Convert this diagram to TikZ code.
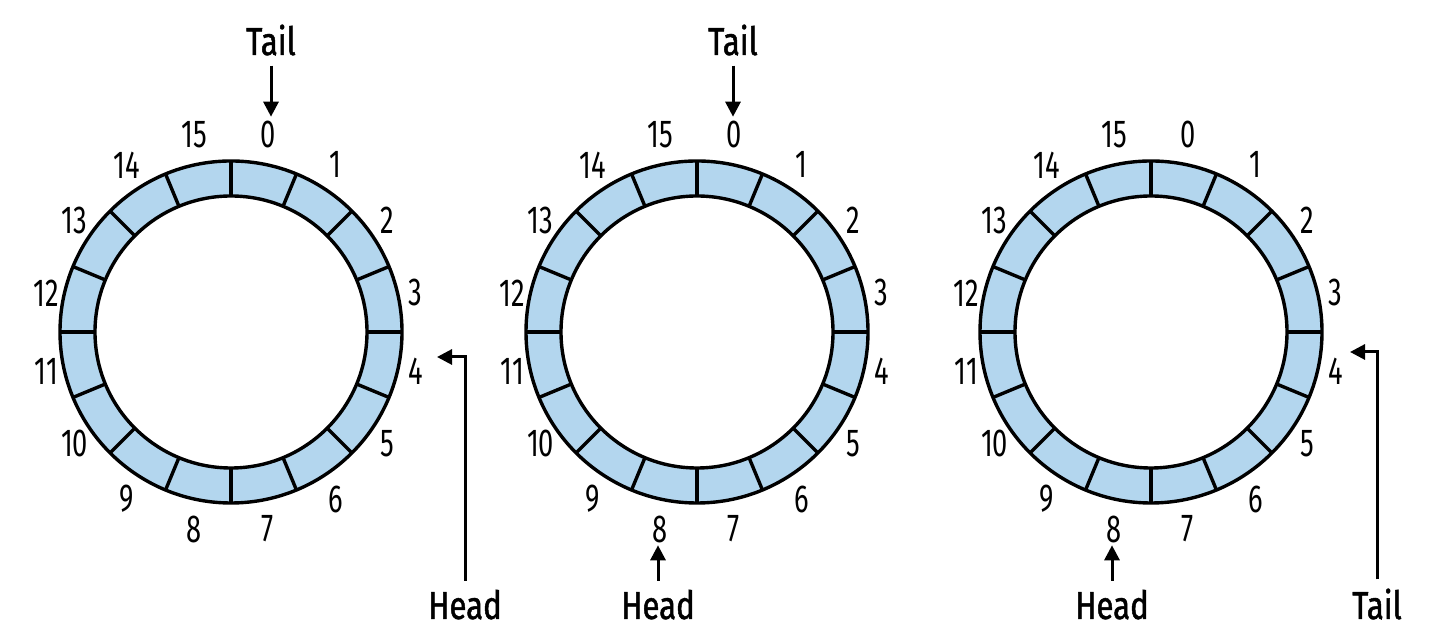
\documentclass[tikz,border=0pt]{standalone}
\usepackage{fontspec}
\setmainfont{Fira Sans}[FakeStretch=0.7]
\newfontfamily\semib{Fira Sans}[FakeStretch=0.8, FakeBold=1.2]
\usetikzlibrary{arrows.meta}
\definecolor{seg}{HTML}{B3D6EE}
\begin{document}
\begin{tikzpicture}[x=1pt,y=1pt,
  ring/.style={line width=3.4pt, black},
  num/.style={font=\fontsize{39}{45}\selectfont, inner sep=0pt},
  big/.style={font=\fontsize{39}{45}\semib, inner sep=0pt, anchor=base},
  arr/.style={line width=3pt, -{Triangle[length=15pt,width=15pt]}}]
\useasboundingbox (0,0) rectangle (1430,644);
\fill[white] (0,0) rectangle (1430,644);
\foreach \cx/\r in {231/a, 697/b, 1151/c} {
  \begin{scope}[shift={(\cx,312)}]
    \fill[seg, even odd rule] (0,0) circle[radius=171] (0,0) circle[radius=136];
    \draw[ring] (0,0) circle[radius=171] (0,0) circle[radius=136];
    \foreach \a in {0,22.5,...,337.5}
      \draw[ring] (\a:136) -- (\a:171);
    \foreach \k in {0,...,15}
      \node[num] (\r\k) at ({78.75-22.5*\k}:188 and 201) {\k};
  \end{scope}
}
% first ring
\node[big] (tailA) at (271,589) {Tail};
\draw[arr, shorten <=10pt, shorten >=4.5pt] (tailA.south) -- (tailA.south |- a0.north);
\node[big] (headA) at (465,25) {Head};
\coordinate (hA) at (437,287);
\draw[arr, shorten <=9pt] (headA.north) |- (hA);
% second ring
\node[big] (tailB) at (733,589) {Tail};
\draw[arr, shorten <=10pt, shorten >=4.5pt] (tailB.south) -- (tailB.south |- b0.north);
\node[big] (headB) at (658,25) {Head};
\draw[arr, shorten <=9pt, shorten >=2.5pt] (headB.north) -- (headB.north |- b8.south);
% third ring
\node[big] (headC) at (1112,25) {Head};
\draw[arr, shorten <=9pt, shorten >=2.5pt] (headC.north) -- (headC.north |- c8.south);
\node[big] (tailC) at (1377,25) {Tail};
\coordinate (tC) at (1350,292);
\draw[arr, shorten <=9pt] (tailC.north) |- (tC);
\end{tikzpicture}
\end{document}
